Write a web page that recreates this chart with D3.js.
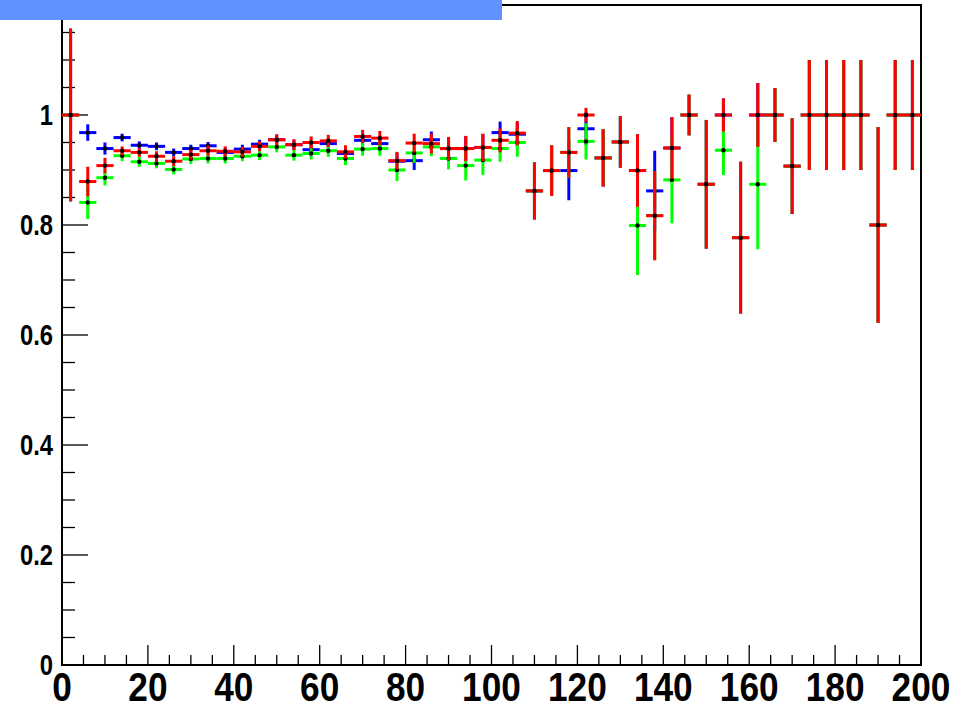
<!DOCTYPE html>
<html>
<head>
<meta charset="utf-8">
<script src="https://cdn.jsdelivr.net/npm/d3@7"></script>
<style>
  html, body { margin: 0; padding: 0; background: #ffffff; }
  svg { display: block; }
</style>
</head>
<body>
<svg id="chart" width="972" height="710"></svg>
<script>
// ---------------- DATA ----------------
const binCenters = [2,6,10,14,18,22,26,30,34,38,42,46,50,54,58,62,66,70,74,78,
  82,86,90,94,98,102,106,110,114,118,122,126,130,134,138,142,146,150,154,158,
  162,166,170,174,178,182,186,190,194,198];
const binHalfWidth = 2;

const blueValues = [1.0,0.968,0.939,0.959,0.945,0.943,0.932,0.939,0.944,0.932,
  0.938,0.947,0.955,0.946,0.937,0.948,0.930,0.954,0.948,0.916,
  0.917,0.955,0.939,0.939,0.941,0.968,0.965,0.862,0.899,0.899,
  0.975,0.922,0.951,0.899,0.862,0.940,1.0,0.874,1.0,0.777,
  1.0,1.0,0.907,1.0,1.0,1.0,1.0,0.800,1.0,1.0];
const blueErrors = [0.157,0.015,0.011,0.007,0.007,0.007,0.007,0.007,0.007,0.008,
  0.008,0.008,0.009,0.009,0.010,0.010,0.011,0.011,0.012,0.015,
  0.017,0.015,0.020,0.022,0.024,0.020,0.022,0.052,0.046,0.054,
  0.030,0.052,0.047,0.066,0.073,0.056,0.037,0.117,0.030,0.138,
  0.058,0.049,0.087,0.100,0.100,0.100,0.100,0.178,0.100,0.100];

const greenValues = [1.0,0.841,0.886,0.926,0.915,0.912,0.901,0.920,0.921,0.921,
  0.925,0.927,0.942,0.927,0.930,0.935,0.921,0.938,0.939,0.900,
  0.931,0.942,0.921,0.908,0.918,0.939,0.950,0.862,0.899,0.932,
  0.952,0.922,0.951,0.799,0.817,0.882,1.0,0.874,0.936,0.777,
  0.874,1.0,0.907,1.0,1.0,1.0,1.0,0.800,1.0,1.0];
const greenErrors = [0.157,0.030,0.014,0.010,0.009,0.009,0.009,0.009,0.009,0.009,
  0.009,0.009,0.010,0.010,0.011,0.011,0.012,0.012,0.013,0.020,
  0.018,0.017,0.020,0.027,0.027,0.024,0.026,0.052,0.046,0.046,
  0.033,0.052,0.047,0.090,0.081,0.079,0.037,0.117,0.045,0.138,
  0.118,0.049,0.087,0.100,0.100,0.100,0.100,0.178,0.100,0.100];

const redValues = [1.0,0.879,0.908,0.935,0.932,0.925,0.916,0.928,0.935,0.934,
  0.933,0.943,0.955,0.946,0.950,0.953,0.933,0.961,0.958,0.917,
  0.949,0.948,0.939,0.939,0.941,0.954,0.967,0.862,0.899,0.932,
  1.0,0.922,0.951,0.899,0.817,0.940,1.0,0.874,1.0,0.777,
  1.0,1.0,0.907,1.0,1.0,1.0,1.0,0.800,1.0,1.0];
const redErrors = [0.157,0.027,0.014,0.008,0.008,0.009,0.009,0.009,0.009,0.009,
  0.009,0.009,0.010,0.010,0.011,0.011,0.012,0.012,0.013,0.016,
  0.017,0.018,0.021,0.023,0.025,0.022,0.022,0.052,0.046,0.046,
  0.013,0.052,0.047,0.066,0.081,0.056,0.037,0.117,0.030,0.138,
  0.058,0.049,0.087,0.100,0.100,0.100,0.100,0.178,0.100,0.100];

const xTickLabels = ["0","20","40","60","80","100","120","140","160","180","200"];
const yTickLabels = ["0","0.2","0.4","0.6","0.8","1"];

const seriesList = [
  { name: "blue",  color: "#0000ff", values: blueValues,  errors: blueErrors },
  { name: "green", color: "#00ff00", values: greenValues, errors: greenErrors },
  { name: "red",   color: "#ff0000", values: redValues,   errors: redErrors }
];

// ---------------- LAYOUT ----------------
const svg = d3.select("#chart");
const frame = { left: 62, right: 921, top: 5, bottom: 665 };
const x = d3.scaleLinear().domain([0, 200]).range([frame.left, frame.right]);
const y = d3.scaleLinear().domain([0, 1.2]).range([frame.bottom, frame.top]);

// Frame
svg.append("rect")
  .attr("x", frame.left).attr("y", frame.top)
  .attr("width", frame.right - frame.left).attr("height", frame.bottom - frame.top)
  .attr("fill", "none").attr("stroke", "#000").attr("stroke-width", 2);

// X ticks
const xMinor = x.ticks(40);
svg.append("g").selectAll("line").data(xMinor).join("line")
  .attr("x1", d => x(d)).attr("x2", d => x(d))
  .attr("y1", frame.bottom)
  .attr("y2", d => frame.bottom - (Math.abs(d % 20) < 1e-9 ? 20 : 10))
  .attr("stroke", "#000").attr("stroke-width", 1.3);

// Y ticks
const yMinor = y.ticks(24);
svg.append("g").selectAll("line").data(yMinor).join("line")
  .attr("y1", d => y(d)).attr("y2", d => y(d))
  .attr("x1", frame.left)
  .attr("x2", d => frame.left + (Math.abs(Math.round(d * 100) % 20) === 0 ? 26 : 13))
  .attr("stroke", "#000").attr("stroke-width", 1.3);

// X labels
svg.append("g").selectAll("text").data(xTickLabels).join("text")
  .attr("transform", d => `translate(${x(+d)},701) scale(0.86,1)`)
  .attr("text-anchor", "middle")
  .attr("font-family", "'Liberation Sans', Arial, sans-serif")
  .attr("font-weight", "bold")
  .attr("font-size", 41)
  .attr("fill", "#000")
  .text(d => d);

// Y labels
svg.append("g").selectAll("text").data(yTickLabels).join("text")
  .attr("transform", d => `translate(53,${y(+d) + 10}) scale(0.82,1)`)
  .attr("text-anchor", "end")
  .attr("font-family", "'Liberation Sans', Arial, sans-serif")
  .attr("font-weight", "bold")
  .attr("font-size", 29)
  .attr("fill", "#000")
  .text(d => d);

// Series
seriesList.forEach(s => {
  const g = svg.append("g").attr("class", "series-" + s.name);
  const pts = binCenters.map((c, i) => ({ c, v: s.values[i], e: s.errors[i] }));
  g.selectAll("line.v").data(pts).join("line").attr("class", "v")
    .attr("x1", d => x(d.c)).attr("x2", d => x(d.c))
    .attr("y1", d => y(Math.min(1.2, d.v + d.e))).attr("y2", d => y(d.v - d.e))
    .attr("stroke", s.color).attr("stroke-width", 3);
  g.selectAll("line.h").data(pts).join("line").attr("class", "h")
    .attr("x1", d => x(d.c - binHalfWidth)).attr("x2", d => x(d.c + binHalfWidth))
    .attr("y1", d => y(d.v)).attr("y2", d => y(d.v))
    .attr("stroke", s.color).attr("stroke-width", 3);
  g.selectAll("circle").data(pts).join("circle")
    .attr("cx", d => x(d.c)).attr("cy", d => y(d.v)).attr("r", 2.2)
    .attr("fill", "#000");
});

// Title box (ROOT pave)
svg.append("rect")
  .attr("x", 0).attr("y", 0).attr("width", 502).attr("height", 20)
  .attr("fill", "#6190ff");
</script>
</body>
</html>
